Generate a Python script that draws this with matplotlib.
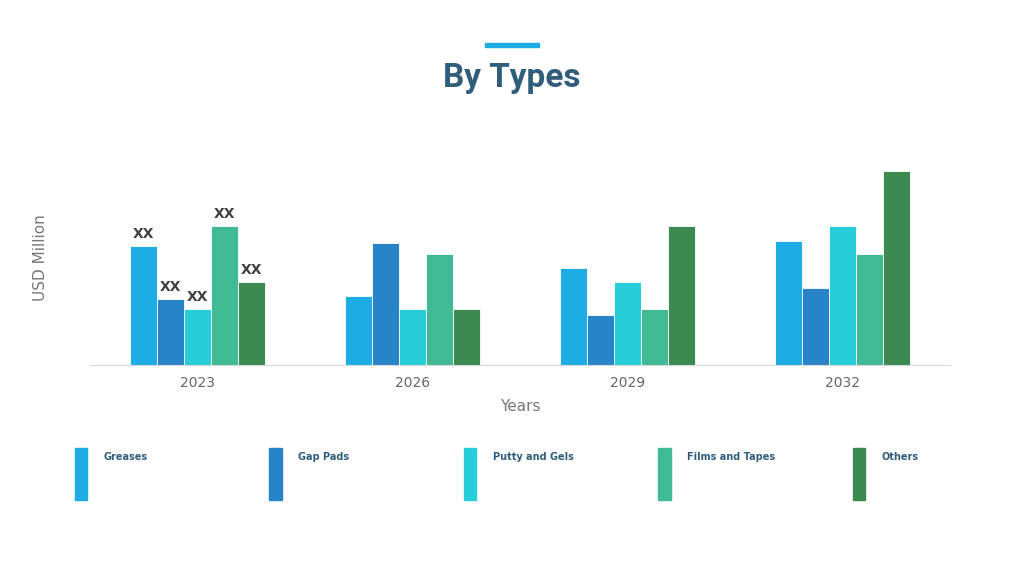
import numpy as np
import matplotlib.pyplot as plt
from matplotlib.patches import Rectangle

years = ["2023", "2026", "2029", "2032"]
series = ["Greases", "Gap Pads", "Putty and Gels", "Films and Tapes", "Others"]
values = [
    [119, 69, 97, 124],   # Greases
    [66, 122, 50, 77],    # Gap Pads
    [56, 56, 83, 139],    # Putty and Gels
    [139, 111, 56, 111],  # Films and Tapes
    [83, 56, 139, 194],   # Others
]
colors = ["#1DADE4", "#2884C8", "#27CDD8", "#40BA94", "#3C8A52"]

fig = plt.figure(figsize=(10.24, 5.76), dpi=100)
ax = fig.add_axes([0.088, 0.366, 0.84, 0.374])

x = np.arange(len(years))
w = 0.126
for i, (name, vals) in enumerate(zip(series, values)):
    bars = ax.bar(x + (i - 2) * w, vals, w, color=colors[i], edgecolor="white", linewidth=0.6)
    ax.text(bars[0].get_x() + w / 2, vals[0] + 5, "XX", ha="center", va="bottom",
            fontsize=10, fontweight="bold", color="#404040")

ax.set_xlim(-0.5, 3.5)
ax.set_ylim(0, 215)
ax.set_xticks(x)
ax.set_xticklabels(years, fontsize=10, color="#666666")
ax.set_yticks([])
for s in ["top", "right", "left"]:
    ax.spines[s].set_visible(False)
ax.spines["bottom"].set_color("#d9d9d9")
ax.tick_params(axis="x", length=0, pad=8)
ax.set_xlabel("Years", fontsize=11, color="#777777", labelpad=6)
ax.set_ylabel("USD Million", fontsize=11, color="#777777", labelpad=30)

fig.text(0.5, 0.865, "By Types", ha="center", va="center", fontsize=24,
         fontweight="bold", color="#2F5D7A", family="Roboto")
fig.add_artist(Rectangle((0.474, 0.918), 0.052, 0.007, transform=fig.transFigure,
                         color="#1DADE4"))

leg_x = [0.073, 0.263, 0.453, 0.643, 0.833]
for lx, name, c in zip(leg_x, series, colors):
    fig.add_artist(Rectangle((lx, 0.132), 0.012, 0.09, transform=fig.transFigure, color=c))
    fig.text(lx + 0.028, 0.207, name, fontsize=7, fontweight="bold", color="#2F5D7A", va="center")

fig.savefig("out.png", dpi=100, facecolor="white")
